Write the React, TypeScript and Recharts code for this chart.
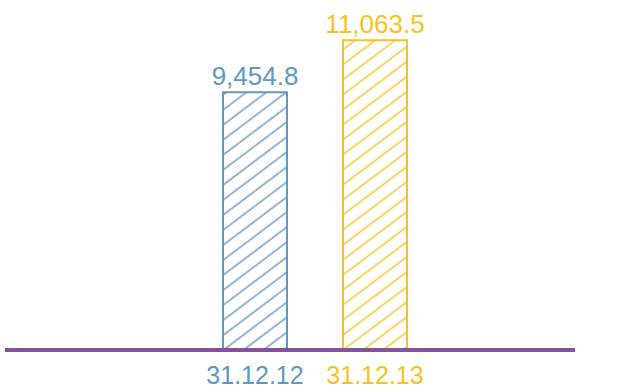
import React from 'react';
import { BarChart, Bar, XAxis, YAxis, Cell, LabelList } from 'recharts';

const categories = ['31.12.12', '31.12.13'];
const values = [9454.8, 11063.5];
const valueLabels = ['9,454.8', '11,063.5'];
const colors = ['#6098c4', '#f7c31e'];
const patternIds = ['hatchBlue', 'hatchYellow'];

const data = categories.map((c, i) => ({ name: c, value: values[i], label: valueLabels[i] }));

const FONT = '"Liberation Sans", Arial, sans-serif';

const Tick = (props: any) => {
  const { x, y, payload, index } = props;
  return (
    <text x={x} y={y + 26} textAnchor="middle" fill={colors[index % colors.length]} fontSize={25} fontFamily={FONT}>
      {payload.value}
    </text>
  );
};

const ValueLabel = (props: any) => {
  const { x, y, width, index } = props;
  return (
    <text x={x + width / 2} y={y - 7} textAnchor="middle" fill={colors[index]} fontSize={26} fontFamily={FONT}>
      {valueLabels[index]}
    </text>
  );
};

export default function App() {
  return (
    <div style={{ position: 'absolute', left: 0, top: 0, width: 619, height: 390, background: '#fff' }}>
      <BarChart width={619} height={390} data={data} margin={{ top: 26, right: 44, left: 5, bottom: 0 }}>
        <defs>
          {colors.map((c, i) => (
            <pattern key={i} id={patternIds[i]} patternUnits="userSpaceOnUse" width={12} height={12} patternTransform="rotate(-37)">
              <line x1={0} y1={6} x2={12} y2={6} stroke={c} strokeWidth={1.4} />
            </pattern>
          ))}
        </defs>
        <YAxis hide domain={[1500, 11500]} type="number" allowDataOverflow />
        <XAxis
          dataKey="name"
          height={40}
          padding={{ left: 190, right: 140 }}
          axisLine={{ stroke: '#884ea0', strokeWidth: 4 }}
          tickLine={false}
          tick={<Tick />}
          interval={0}
        />
        <Bar dataKey="value" barSize={64} isAnimationActive={false} strokeWidth={2}>
          {data.map((d, i) => (
            <Cell key={i} fill={`url(#${patternIds[i]})`} stroke={colors[i]} />
          ))}
          <LabelList dataKey="label" content={<ValueLabel />} />
        </Bar>
      </BarChart>
    </div>
  );
}
